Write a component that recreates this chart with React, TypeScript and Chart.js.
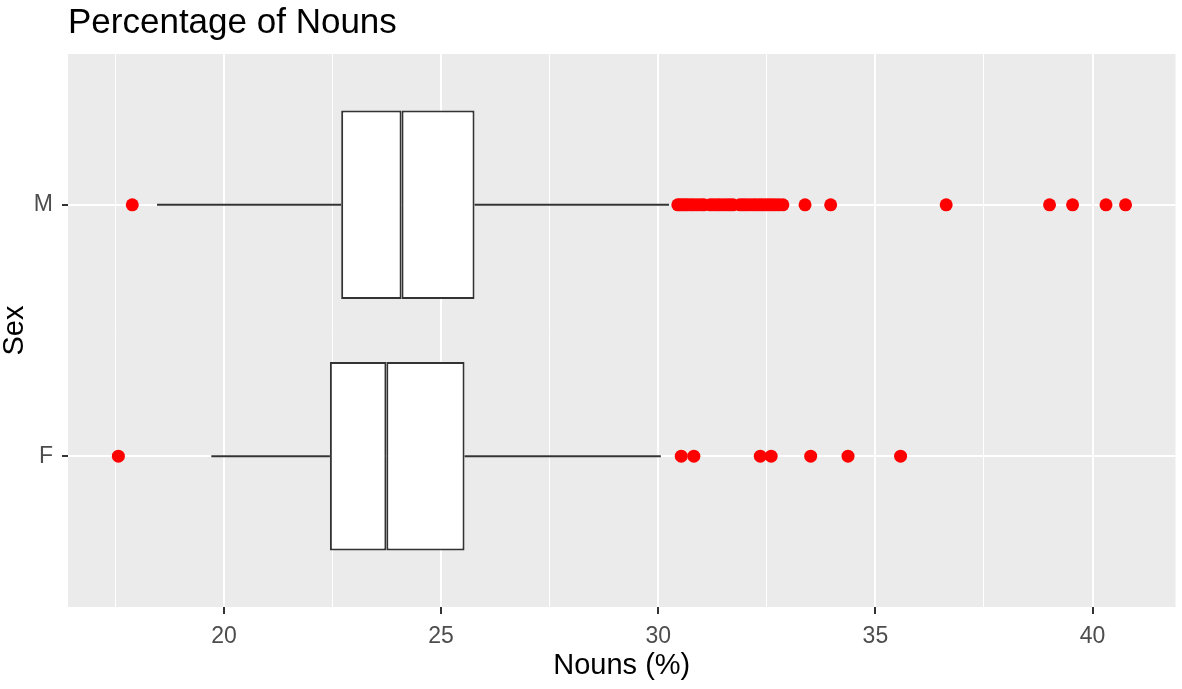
import React, { useEffect, useRef } from 'react';
import { Chart, registerables } from 'chart.js';

Chart.register(...registerables);

// ---- data ----
const categories = ['F', 'M'];
const categoryPositions = [1, 2];
const q1 = [22.44, 22.7];
const median = [23.74, 24.09];
const q3 = [25.54, 25.77];
const whiskerLow = [19.71, 18.46];
const whiskerHigh = [30.06, 30.25];
const outliersF = [17.57, 30.53, 30.82, 32.35, 32.6, 33.51, 34.37, 35.58];
const outliersM = [
  17.89, 30.45, 30.5, 30.56, 30.62, 30.68, 30.75, 30.82, 30.9, 30.98, 31.05,
  31.2, 31.27, 31.35, 31.42, 31.5, 31.58, 31.65, 31.72, 31.88, 31.95, 32.02,
  32.1, 32.18, 32.25, 32.33, 32.4, 32.48, 32.55, 32.62, 32.7, 32.78, 32.87,
  33.38, 33.97, 36.63, 39.01, 39.54, 40.31, 40.76,
];
const xMajorTicks = [20, 25, 30, 35, 40];
const xMinorTicks = [17.5, 22.5, 27.5, 32.5, 37.5];
const xRange = [16.41, 41.91];
const yRange = [0.4, 2.6];
const titleText = 'Percentage of Nouns';
const xTitle = 'Nouns (%)';
const yTitle = 'Sex';

const FONT = "'Liberation Sans', Arial, sans-serif";
const INK = '#333333';

const panelPlugin = {
  id: 'ggPanel',
  beforeDraw(chart: any) {
    const { ctx, chartArea } = chart;
    ctx.save();
    ctx.fillStyle = '#FFFFFF';
    ctx.fillRect(0, 0, chart.width, chart.height);
    ctx.fillStyle = '#EBEBEB';
    ctx.fillRect(chartArea.left, chartArea.top, chartArea.right - chartArea.left, chartArea.bottom - chartArea.top);
    ctx.restore();
  },
  afterDraw(chart: any) {
    const { ctx, chartArea } = chart;
    ctx.save();
    ctx.font = `35px ${FONT}`;
    ctx.fillStyle = '#000000';
    ctx.textAlign = 'left';
    ctx.textBaseline = 'alphabetic';
    ctx.fillText(titleText, chartArea.left, 33);
    ctx.restore();
  },
};

export default function App() {
  const ref = useRef<HTMLCanvasElement | null>(null);

  useEffect(() => {
    document.body.style.margin = '0';
    if (!ref.current) return;

    const datasets: any[] = [];

    datasets.push({
      type: 'scatter',
      label: 'outliers F',
      data: outliersF.map((v) => ({ x: v, y: categoryPositions[0] })),
      backgroundColor: '#FF0000',
      borderWidth: 0,
      pointRadius: 6.5,
    });
    datasets.push({
      type: 'scatter',
      label: 'outliers M',
      data: outliersM.map((v) => ({ x: v, y: categoryPositions[1] })),
      backgroundColor: '#FF0000',
      borderWidth: 0,
      pointRadius: 6.5,
    });

    const boxStyle = {
      type: 'bar',
      backgroundColor: '#FFFFFF',
      borderColor: INK,
      borderWidth: 2,
      borderSkipped: false,
      grouped: false,
      barPercentage: 0.75,
      categoryPercentage: 1,
    };
    datasets.push({
      ...boxStyle,
      label: 'lower box',
      data: categoryPositions.map((p, i) => ({ y: p, x: [q1[i], median[i]] })),
    });
    datasets.push({
      ...boxStyle,
      label: 'upper box',
      data: categoryPositions.map((p, i) => ({ y: p, x: [median[i], q3[i]] })),
    });

    categoryPositions.forEach((p, i) => {
      datasets.push({
        type: 'line',
        label: 'whisker low ' + categories[i],
        data: [
          { x: whiskerLow[i], y: p },
          { x: q1[i], y: p },
        ],
        borderColor: INK,
        borderWidth: 2,
        pointRadius: 0,
        fill: false,
      });
      datasets.push({
        type: 'line',
        label: 'whisker high ' + categories[i],
        data: [
          { x: q3[i], y: p },
          { x: whiskerHigh[i], y: p },
        ],
        borderColor: INK,
        borderWidth: 2,
        pointRadius: 0,
        fill: false,
      });
    });

    const allXTicks = [...xMinorTicks, ...xMajorTicks].sort((a, b) => a - b);
    const isMajor = (v: number) => xMajorTicks.includes(v);

    const chart = new Chart(ref.current, {
      type: 'bar',
      data: { datasets },
      plugins: [panelPlugin],
      options: {
        indexAxis: 'y',
        animation: false,
        responsive: false,
        maintainAspectRatio: false,
        layout: { padding: { left: 0, top: 54, right: 1, bottom: 0 } },
        plugins: {
          legend: { display: false },
          tooltip: { enabled: false },
          title: { display: false },
        },
        scales: {
          x: {
            type: 'linear',
            position: 'bottom',
            min: xRange[0],
            max: xRange[1],
            offset: false,
            afterBuildTicks: (scale: any) => {
              scale.ticks = allXTicks.map((v) => ({ value: v }));
            },
            afterFit: (scale: any) => {
              scale.height = 82;
              scale.paddingLeft = 0;
              scale.paddingRight = 0;
            },
            ticks: {
              autoSkip: false,
              maxRotation: 0,
              minRotation: 0,
              padding: 9,
              color: '#4D4D4D',
              font: { family: FONT, size: 23 },
              callback: (v: any) => (isMajor(Number(v)) ? String(v) : ''),
            },
            grid: {
              color: '#FFFFFF',
              offset: false,
              lineWidth: (ctx: any) => (ctx.tick && isMajor(ctx.tick.value) ? 2 : 1),
              tickColor: (ctx: any) => (ctx.tick && isMajor(ctx.tick.value) ? INK : 'rgba(0,0,0,0)'),
              tickLength: 7,
              tickWidth: 2,
              drawTicks: true,
            },
            border: { display: false },
            title: {
              display: true,
              text: xTitle,
              color: '#000000',
              font: { family: FONT, size: 29, lineHeight: 1 },
              padding: { top: 0, bottom: 9 },
            },
          },
          y: {
            type: 'linear',
            position: 'left',
            min: yRange[0],
            max: yRange[1],
            offset: false,
            afterBuildTicks: (scale: any) => {
              scale.ticks = categoryPositions.map((v) => ({ value: v }));
            },
            afterFit: (scale: any) => {
              scale.width = 68;
              scale.paddingTop = 0;
              scale.paddingBottom = 0;
            },
            ticks: {
              autoSkip: false,
              padding: 9,
              color: '#4D4D4D',
              font: { family: FONT, size: 23 },
              callback: (v: any) => {
                const idx = categoryPositions.indexOf(Number(v));
                return idx >= 0 ? categories[idx] : '';
              },
            },
            grid: {
              color: '#FFFFFF',
              offset: false,
              lineWidth: 2,
              tickColor: INK,
              tickLength: 6,
              tickWidth: 2,
              drawTicks: true,
            },
            border: { display: false },
            title: {
              display: true,
              text: yTitle,
              color: '#000000',
              font: { family: FONT, size: 29, lineHeight: 1 },
              padding: { top: 0, bottom: 0 },
            },
          },
        },
      } as any,
    });

    return () => chart.destroy();
  }, []);

  return (
    <div style={{ width: 1182, height: 689 }}>
      <canvas ref={ref} width={1182} height={689} style={{ display: 'block', width: 1182, height: 689 }} />
    </div>
  );
}
